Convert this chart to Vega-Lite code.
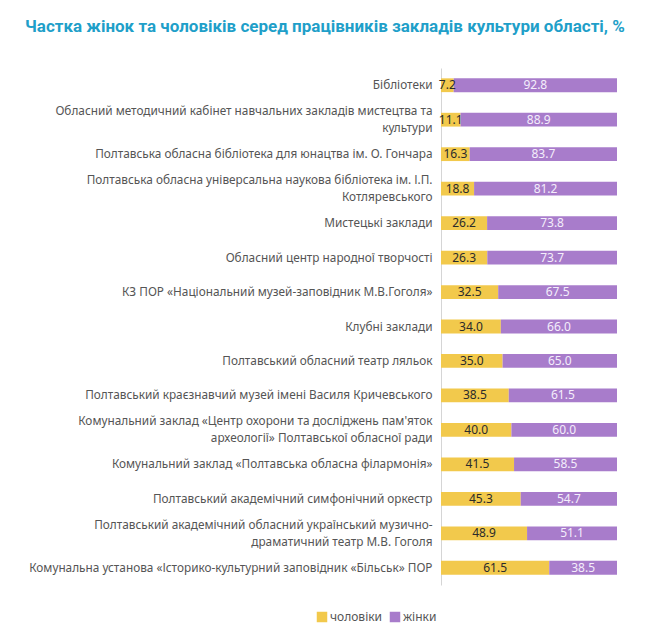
{
  "$schema": "https://vega.github.io/schema/vega-lite/v6.json",
  "autosize": {"type": "none"},
  "width": 176,
  "height": 517,
  "padding": {"left": 441, "top": 68, "right": 51, "bottom": 48},
  "background": "white",
  "title": {
    "text": "Частка жінок та чоловіків серед працівників закладів культури області, %",
    "anchor": "start",
    "frame": "group",
    "dx": -416,
    "offset": 32,
    "font": "Roboto",
    "fontSize": 17,
    "fontWeight": "bold",
    "color": "#1f9fc9"
  },
  "config": {
    "view": {"stroke": null},
    "font": "Noto Sans"
  },
  "data": {
    "values": [
      {"name": "Бібліотеки", "sex": "чоловіки", "k": 1, "value": 7.2},
      {"name": "Бібліотеки", "sex": "жінки", "k": 2, "value": 92.8},
      {"name": "Обласний методичний кабінет навчальних закладів мистецтва та|культури", "sex": "чоловіки", "k": 1, "value": 11.1},
      {"name": "Обласний методичний кабінет навчальних закладів мистецтва та|культури", "sex": "жінки", "k": 2, "value": 88.9},
      {"name": "Полтавська обласна бібліотека для юнацтва ім. О. Гончара", "sex": "чоловіки", "k": 1, "value": 16.3},
      {"name": "Полтавська обласна бібліотека для юнацтва ім. О. Гончара", "sex": "жінки", "k": 2, "value": 83.7},
      {"name": "Полтавська обласна універсальна наукова бібліотека ім. І.П.|Котляревського", "sex": "чоловіки", "k": 1, "value": 18.8},
      {"name": "Полтавська обласна універсальна наукова бібліотека ім. І.П.|Котляревського", "sex": "жінки", "k": 2, "value": 81.2},
      {"name": "Мистецькі заклади", "sex": "чоловіки", "k": 1, "value": 26.2},
      {"name": "Мистецькі заклади", "sex": "жінки", "k": 2, "value": 73.8},
      {"name": "Обласний центр народної творчості", "sex": "чоловіки", "k": 1, "value": 26.3},
      {"name": "Обласний центр народної творчості", "sex": "жінки", "k": 2, "value": 73.7},
      {"name": "КЗ ПОР «Національний музей-заповідник М.В.Гоголя»", "sex": "чоловіки", "k": 1, "value": 32.5},
      {"name": "КЗ ПОР «Національний музей-заповідник М.В.Гоголя»", "sex": "жінки", "k": 2, "value": 67.5},
      {"name": "Клубні заклади", "sex": "чоловіки", "k": 1, "value": 34.0},
      {"name": "Клубні заклади", "sex": "жінки", "k": 2, "value": 66.0},
      {"name": "Полтавський обласний театр ляльок", "sex": "чоловіки", "k": 1, "value": 35.0},
      {"name": "Полтавський обласний театр ляльок", "sex": "жінки", "k": 2, "value": 65.0},
      {"name": "Полтавський краєзнавчий музей імені Василя Кричевського", "sex": "чоловіки", "k": 1, "value": 38.5},
      {"name": "Полтавський краєзнавчий музей імені Василя Кричевського", "sex": "жінки", "k": 2, "value": 61.5},
      {"name": "Комунальний заклад «Центр охорони та досліджень пам'яток|археології» Полтавської обласної ради", "sex": "чоловіки", "k": 1, "value": 40.0},
      {"name": "Комунальний заклад «Центр охорони та досліджень пам'яток|археології» Полтавської обласної ради", "sex": "жінки", "k": 2, "value": 60.0},
      {"name": "Комунальний заклад «Полтавська обласна філармонія»", "sex": "чоловіки", "k": 1, "value": 41.5},
      {"name": "Комунальний заклад «Полтавська обласна філармонія»", "sex": "жінки", "k": 2, "value": 58.5},
      {"name": "Полтавський академічний симфонічний оркестр", "sex": "чоловіки", "k": 1, "value": 45.3},
      {"name": "Полтавський академічний симфонічний оркестр", "sex": "жінки", "k": 2, "value": 54.7},
      {"name": "Полтавський академічний обласний український музично-|драматичний театр М.В. Гоголя", "sex": "чоловіки", "k": 1, "value": 48.9},
      {"name": "Полтавський академічний обласний український музично-|драматичний театр М.В. Гоголя", "sex": "жінки", "k": 2, "value": 51.1},
      {"name": "Комунальна установа «Історико-культурний заповідник «Більськ» ПОР", "sex": "чоловіки", "k": 1, "value": 61.5},
      {"name": "Комунальна установа «Історико-культурний заповідник «Більськ» ПОР", "sex": "жінки", "k": 2, "value": 38.5}
    ]
  },
  "encoding": {
    "y": {
      "field": "name",
      "type": "nominal",
      "sort": null,
      "scale": {"paddingInner": 0.6, "paddingOuter": 0.3},
      "axis": {
        "title": null,
        "labelExpr": "split(datum.label, '|')",
        "labelLimit": 440,
        "labelFontSize": 11.8,
        "labelColor": "#555555",
        "labelPadding": 9,
        "labelLineHeight": 17,
        "labelOffset": {"condition": {"test": "indexof(datum.value, '|') >= 0", "value": -8.5}, "value": 0},
        "ticks": false,
        "domainColor": "#d5d5d5",
        "grid": false
      }
    },
    "x": {
      "field": "value",
      "type": "quantitative",
      "stack": "zero",
      "scale": {"domain": [0, 100]},
      "axis": null
    },
    "order": {"field": "k", "type": "quantitative"}
  },
  "layer": [
    {
      "mark": {"type": "bar"},
      "encoding": {
        "color": {
          "field": "sex",
          "type": "nominal",
          "scale": {"domain": ["чоловіки", "жінки"], "range": ["#f2c94c", "#a87ccb"]},
          "legend": {
            "title": null,
            "orient": "none",
            "direction": "horizontal",
            "legendX": -125,
            "legendY": 543,
            "symbolType": "square",
            "symbolSize": 110,
            "symbolStrokeWidth": 0,
            "labelFontSize": 12,
            "labelColor": "#555555",
            "labelOffset": 2,
            "columnPadding": 6
          }
        }
      }
    },
    {
      "mark": {"type": "text", "fontSize": 12, "baseline": "middle"},
      "encoding": {
        "x": {"field": "value", "type": "quantitative", "stack": "zero", "bandPosition": 0.5},
        "text": {"field": "value", "type": "quantitative", "format": ".1f"},
        "color": {
          "condition": {"test": "datum.sex === 'жінки'", "value": "#f4eefb"},
          "value": "#2b2b2b"
        }
      }
    }
  ]
}
